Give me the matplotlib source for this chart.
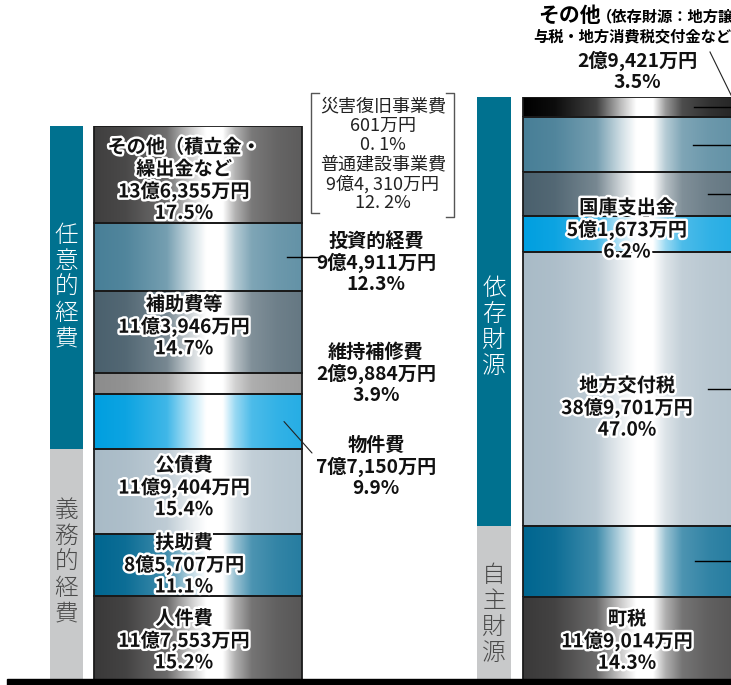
import numpy as np
import matplotlib.pyplot as plt
import matplotlib.patheffects as pe
from matplotlib.colors import to_rgb
from matplotlib.patches import Rectangle

plt.rcParams['font.family'] = ['Noto Sans CJK JP', 'DejaVu Sans']

# 歳出 (left bar), bottom -> top
left_names = ['人件費', '扶助費', '公債費', '物件費', '維持補修費', '補助費等', '投資的経費',
              'その他（積立金・\n繰出金など']
left_amounts = ['11億7,553万円', '8億5,707万円', '11億9,404万円', '7億7,150万円',
                '2億9,884万円', '11億3,946万円', '9億4,911万円', '13億6,355万円']
left_pcts = [15.2, 11.1, 15.4, 9.9, 3.9, 14.7, 12.3, 17.5]
left_groups = ['義務的経費', '任意的経費']
left_group_sizes = [3, 5]

# 歳入 (right bar), bottom -> top
right_names = ['町税', '', '地方交付税', '国庫支出金', '', '', 'その他']
right_amounts = ['11億9,014万円', '', '38億9,701万円', '5億1,673万円', '', '', '2億9,421万円']
right_pcts = [14.3, 12.1, 47.0, 6.2, 7.5, 9.4, 3.5]
right_groups = ['自主財源', '依存財源']
right_group_sizes = [2, 5]

# 投資的経費の内訳
sub_names = ['災害復旧事業費', '普通建設事業費']
sub_amounts = ['601万円', '9億4, 310万円']
sub_pcts = ['0. 1%', '12. 2%']

left_colors = ['#3a3939', '#006690', '#a9bbc7', '#009fe0', '#8c8c8c', '#4a606d', '#487f97', '#403f3f']
right_colors = ['#3a3939', '#006690', '#a9bbc7', '#009fe0', '#4a606d', '#487f97', '#000000']
group_colors = ['#c8c9ca', '#00718f']
group_text = ['#4a4a4a', 'white']

W, H = 731, 685
fig = plt.figure(figsize=(W / 100, H / 100), dpi=100)


def bar_axes(top):
    ax = fig.add_axes([0, (H - 680) / H, 1, (680 - top) / H])
    ax.set_axis_off()
    return ax


axL = bar_axes(126)
axR = bar_axes(97)
base = fig.add_axes([0, 0, 1, 1])
base.set_axis_off()

tp = [0, 0.15, 0.35, 0.47, 0.54, 0.62, 0.68, 0.76, 0.88, 1]
hp = [0, 0.05, 0.25, 0.75, 1.0, 1.0, 0.6, 0.3, 0.2, 0.15]


def shade(c):
    t = np.linspace(0, 1, 300)
    h = np.interp(t, tp, hp)[:, None]
    rgb = np.array(to_rgb(c))[None, :]
    return (rgb * (1 - h) + h)[None, :, :]


def stack(ax, pcts, colors, x0, x1):
    bottoms = np.concatenate([[0], np.cumsum(pcts)[:-1]])
    for b, p, c in zip(bottoms, pcts, colors):
        ax.imshow(shade(c), extent=[x0, x1, b, b + p], aspect='auto',
                  interpolation='bilinear', zorder=2)
    ax.bar((x0 + x1) / 2, pcts, width=x1 - x0, bottom=bottoms, facecolor='none',
           edgecolor='#1a1a1a', lw=1.3, zorder=3)
    ax.set_xlim(0, W)
    ax.set_ylim(0, sum(pcts))
    return bottoms + np.array(pcts) / 2


def lines_at(ax, x, y, lines, pitch, dy=0, **kw):
    n = len(lines)
    for i, s in enumerate(lines):
        ax.annotate(s, (x, y), xytext=(0, ((n - 1) / 2 - i) * pitch - dy * 0.72),
                    textcoords='offset points', ha='center', va='center', **kw)


def strips(ax, pcts, sizes, names, x0, x1, dys):
    cum = np.concatenate([[0], np.cumsum(pcts)])
    start = 0
    for k, (n, name) in enumerate(zip(sizes, names)):
        b, t = cum[start], cum[start + n]
        ax.bar((x0 + x1) / 2, t - b, bottom=b, width=x1 - x0, color=group_colors[k], zorder=2)
        lines_at(ax, (x0 + x1) / 2, (b + t) / 2, list(name), 18.7, dy=dys[k],
                 fontsize=17, fontweight='light', color=group_text[k], zorder=4)
        start += n


halo = [pe.withStroke(linewidth=3.5, foreground='white')]
txt = dict(fontsize=13.8, fontweight='bold', color='#111111')

# left bar
midsL = stack(axL, left_pcts, left_colors, 94, 302)
strips(axL, left_pcts, left_group_sizes, left_groups, 50, 83, [-2, 0])
left_dy = [3, 0, -4, 0, 0, -5, 0, 6]
for i in [0, 1, 2, 5, 7]:
    lines_at(axL, 184, midsL[i], left_names[i].split('\n') + [left_amounts[i], f'{left_pcts[i]}%'],
             15.8, dy=left_dy[i], path_effects=halo, zorder=5, **txt)

# outside labels for 投資的経費 / 維持補修費 / 物件費
for i, ypx in [(6, 263), (4, 374), (3, 467)]:
    lines_at(base, 376, ypx, [left_names[i], left_amounts[i], f'{left_pcts[i]}%'], 15.5, **txt)
axL.plot([287, 320], [midsL[6], midsL[6]], color='k', lw=1, zorder=4, clip_on=False)
axL.annotate('', xy=(284, midsL[3]), xytext=(312, 453), textcoords=base.transData,
             arrowprops=dict(arrowstyle='-', lw=0.8, color='#222222', shrinkA=0, shrinkB=0),
             zorder=4)

# breakdown in brackets
sub_lines = []
for nm, am, pc in zip(sub_names, sub_amounts, sub_pcts):
    sub_lines += [nm, am, pc]
lines_at(base, 383, 155, sub_lines, 13.9, fontsize=13, color='#222222')
base.plot([319, 311, 311, 319], [93, 93, 213, 213], color='#555555', lw=1)
base.plot([446, 454, 454, 446], [93, 93, 217, 217], color='#555555', lw=1)

# right bar
midsR = stack(axR, right_pcts, right_colors, 523, 733)
strips(axR, right_pcts, right_group_sizes, right_groups, 477, 511, [11, 16])
right_dy = [3, 0, 19, -4, 0, 0, 0]
for i in [0, 2, 3]:
    lines_at(axR, 627, midsR[i], [right_names[i], right_amounts[i], f'{right_pcts[i]}%'],
             15.8, dy=right_dy[i], path_effects=halo, zorder=5, **txt)
for i, xs in [(6, 694), (5, 693), (4, 708), (2, 708), (1, 695)]:
    axR.plot([xs, 735], [midsR[i], midsR[i]], color='k', lw=1, zorder=4, clip_on=False)

# top label of その他 (right), cut at the picture edge as in the source
base.text(538, 15, right_names[6], ha='left', va='center', fontsize=15, fontweight='bold')
base.text(597, 16, '（依存財源：地方譲', ha='left', va='center', fontsize=11, fontweight='bold')
base.text(533, 36, '与税・地方消費税交付金など', ha='left', va='center', fontsize=11,
          fontweight='bold')
lines_at(base, 637, 72, [right_amounts[6], f'{right_pcts[6]}%'], 15.8, **txt)
base.plot([710, 733], [52, 99], color='#222222', lw=0.8)

base.add_patch(Rectangle((7, 679), 730, 8, color='k', zorder=6))
base.set_xlim(0, W)
base.set_ylim(H, 0)

fig.savefig('out.png', dpi=100)
